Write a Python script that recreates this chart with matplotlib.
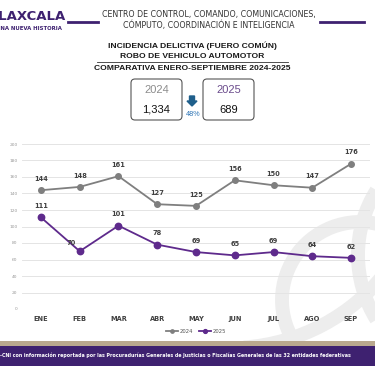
import numpy as np
import matplotlib.pyplot as plt
from matplotlib.patches import FancyBboxPatch, Rectangle, Arc, FancyArrow

months = ["ENE", "FEB", "MAR", "ABR", "MAY", "JUN", "JUL", "AGO", "SEP"]
vals_2024 = [144, 148, 161, 127, 125, 156, 150, 147, 176]
vals_2025 = [111, 70, 101, 78, 69, 65, 69, 64, 62]
y_ticks = [0, 20, 40, 60, 80, 100, 120, 140, 160, 180, 200]
total_2024 = "1,334"
total_2025 = "689"
pct_change = "48%"

PURPLE = "#5e2a8c"
GRAY = "#7f7f7f"
DARK_PURPLE = "#3e2170"

W, H = 375, 366
fig = plt.figure(figsize=(3.75, 3.66), dpi=100)
fig.patch.set_facecolor("white")


def fx(px):
    return px / W


def fy(py):
    return 1 - py / H


# background layer, pixel coordinates (y down)
bg = fig.add_axes([0, 0, 1, 1], zorder=-1)
bg.set_xlim(0, W)
bg.set_ylim(H, 0)
bg.axis("off")
# faint logo watermark
wm = "#ededed"
bg.add_patch(Arc((480, 255), 244, 244, theta1=148, theta2=212, lw=10, color=wm))
bg.add_patch(Arc((360, 300), 156, 156, theta1=140, theta2=285, lw=10, color=wm))
bg.add_patch(Arc((230, 150), 396, 396, theta1=38, theta2=86, lw=10, color=wm))

# header
fig.text(fx(-10), fy(17), "TLAXCALA", fontsize=9.5, fontweight="bold", color=DARK_PURPLE,
         va="center", ha="left", family="DejaVu Sans")
fig.text(fx(-4), fy(29), "UNA NUEVA HISTORIA", fontsize=3.9, fontweight="bold",
         color=DARK_PURPLE, va="center", ha="left")
bg.plot([68, 98], [22, 22], color=DARK_PURPLE, lw=2)
bg.plot([320, 364], [22, 22], color=DARK_PURPLE, lw=2)
fig.text(fx(209), fy(15), "CENTRO DE CONTROL, COMANDO, COMUNICACIONES,", fontsize=5.7,
         color="#333333", ha="center", va="center")
fig.text(fx(209), fy(25), "CÓMPUTO, COORDINACIÓN E INTELIGENCIA", fontsize=5.7,
         color="#333333", ha="center", va="center")

# titles
title_font = dict(fontsize=6.1, fontweight="bold", color="#1a1a1a", ha="center",
                  va="center", family="Liberation Sans")
fig.text(fx(192), fy(46), "INCIDENCIA DELICTIVA (FUERO COMÚN)", **title_font)
fig.text(fx(192), fy(56.5), "ROBO DE VEHICULO AUTOMOTOR", **title_font)
fig.text(fx(192), fy(69), "COMPARATIVA ENERO-SEPTIEMBRE 2024-2025", **title_font)
bg.plot([97, 288], [62, 62], color="#333333", lw=0.6)

# summary boxes
for x0, year, total, ycol in [(131, "2024", total_2024, "#8c8c8c"),
                              (203, "2025", total_2025, "#6b4c8c")]:
    bg.add_patch(FancyBboxPatch((x0, 79), 51, 41, boxstyle="round,pad=0,rounding_size=4",
                                fc="white", ec="#555555", lw=0.8))
    bg.text(x0 + 25.5, 90, year, fontsize=8, color=ycol, ha="center", va="center",
            family="Liberation Sans")
    bg.text(x0 + 25.5, 110, total, fontsize=8, color="#111111", ha="center", va="center",
            family="Liberation Sans")
bg.add_patch(FancyArrow(192, 96, 0, 10, width=5, head_width=10, head_length=5,
                        length_includes_head=True, color="#1f5f8b"))
bg.text(193, 115, pct_change, fontsize=5.2, color="#2e75b6", ha="center", va="center",
        family="Liberation Sans")

# main chart
ax = fig.add_axes([fx(21.6), 1 - 309 / H, fx(348.8), 165 / H])
x = np.arange(len(months))
ax.plot(x, vals_2024, color=GRAY, lw=1.3, marker="o", ms=4, label="2024", zorder=3)
ax.plot(x, vals_2025, color=PURPLE, lw=1.3, marker="o", ms=4.6, label="2025", zorder=3)
for i, v in enumerate(vals_2024):
    ax.annotate(str(v), (i, v), xytext=(0, 6), textcoords="offset points", ha="center",
                va="bottom", fontsize=4.8, color="#404040", fontweight="bold")
for i, v in enumerate(vals_2025):
    off = (-6, 4) if i == 1 else (0, 6)
    ax.annotate(str(v), (i, v), xytext=off, textcoords="offset points", ha="center",
                va="bottom", fontsize=4.8, color="#404040", fontweight="bold")
ax.set_xlim(-0.5, len(months) - 0.5)
ax.set_ylim(0, 200)
ax.set_yticks(y_ticks)
ax.set_yticklabels([str(t) for t in y_ticks], fontsize=3.2, color="#999999")
ax.set_xticks(x)
ax.set_xticklabels(months, fontsize=4.8, fontweight="bold", color="#404040")
ax.tick_params(length=0, pad=5)
ax.tick_params(axis="y", pad=3)
ax.grid(axis="y", color="#e4e4e4", lw=0.7)
ax.set_axisbelow(True)
for s in ax.spines.values():
    s.set_visible(False)
ax.patch.set_alpha(0)
ax.legend(loc="center", bbox_to_anchor=(0.5, -0.135), ncol=2, frameon=False,
          fontsize=3.8, handlelength=2.2, markerscale=0.6, columnspacing=1.2,
          handletextpad=0.3, labelcolor="#555555")

# footer
bg.add_patch(Rectangle((0, 341), W, 6, color="#b9a88e", lw=0))
bg.add_patch(Rectangle((0, 346), W, 20, color=DARK_PURPLE, lw=0))
fig.text(fx(-21), fy(355), "SESNSP-CNI con información reportada por las Procuradurías Generales "
         "de Justicias o Fiscalías Generales de las 32 entidades federativas",
         fontsize=3.4, color="white", fontweight="bold", ha="left", va="center",
         family="Liberation Sans Narrow")

fig.savefig("out.png", dpi=100)
